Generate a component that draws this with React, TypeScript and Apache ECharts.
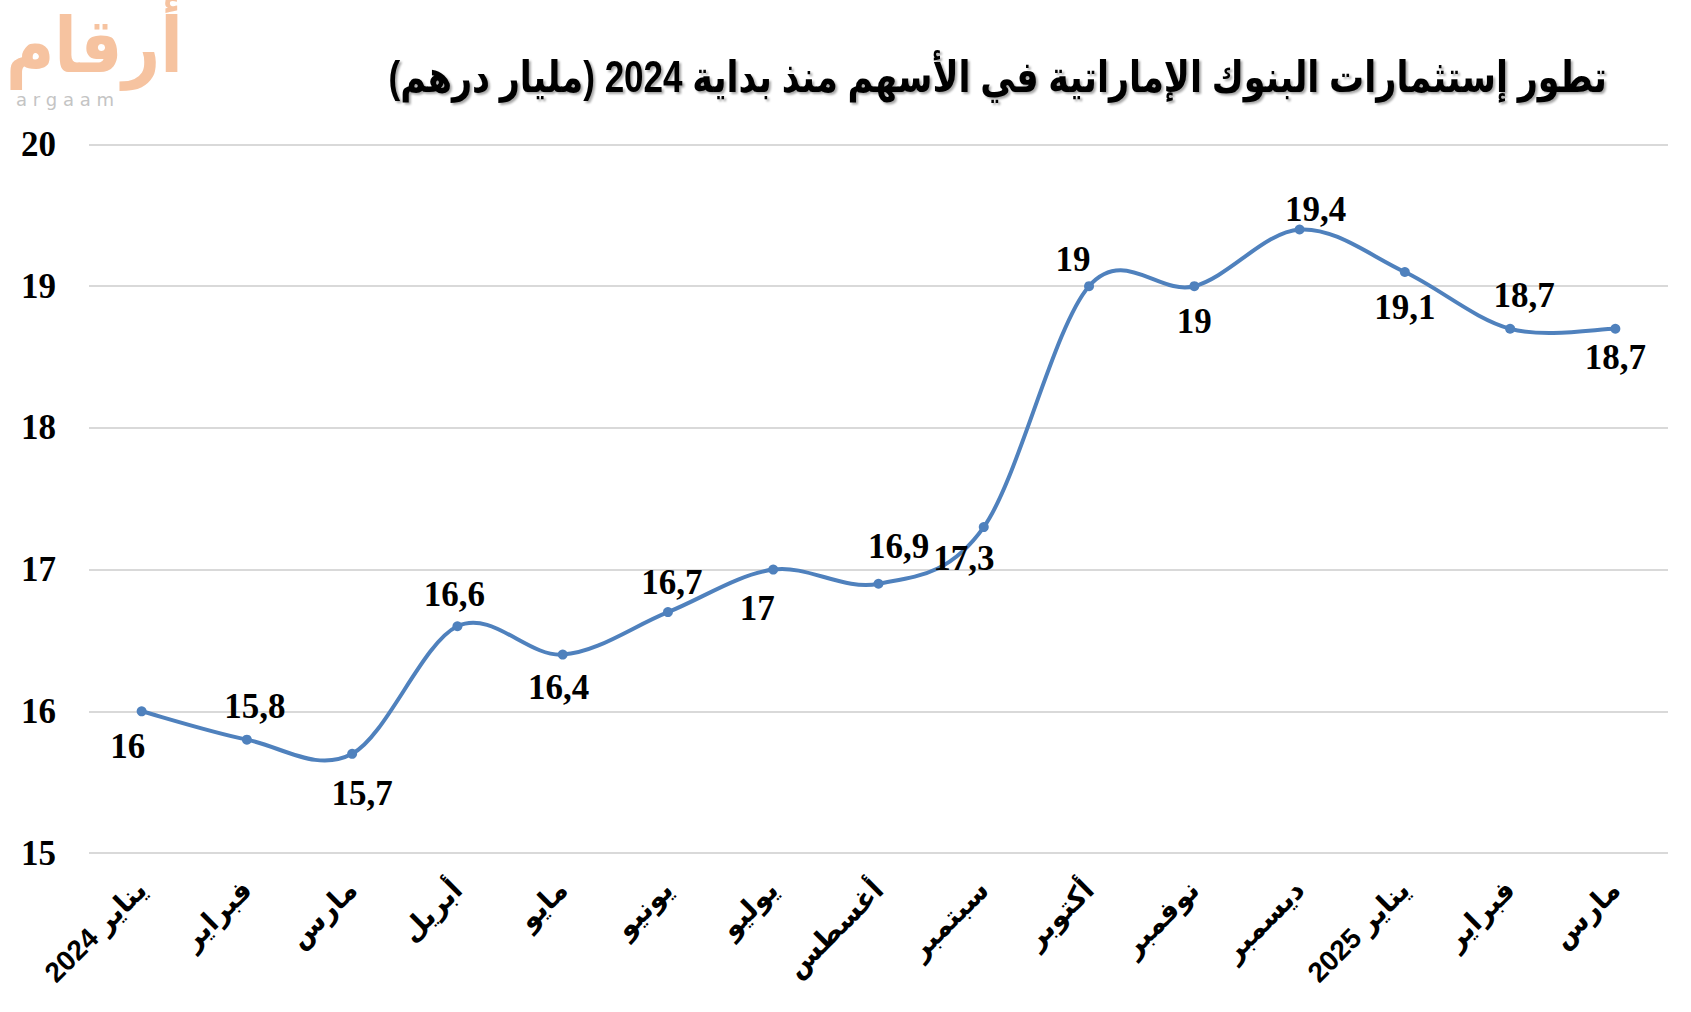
import React, { useEffect, useRef } from "react";
import * as echarts from "echarts";

const categories = [
  "يناير 2024",
  "فبراير",
  "مارس",
  "أبريل",
  "مايو",
  "يونيو",
  "يوليو",
  "أغسطس",
  "سبتمبر",
  "أكتوبر",
  "نوفمبر",
  "ديسمبر",
  "يناير 2025",
  "فبراير",
  "مارس",
];

const values = [16, 15.8, 15.7, 16.6, 16.4, 16.7, 17, 16.9, 17.3, 19, 19, 19.4, 19.1, 18.7, 18.7];

// label offsets (style), relative to the point
const labelOffsets: [number, number][] = [
  [-14, 35], [8, -33], [10, 40], [-3, -32], [-4, 33], [4, -30], [-16, 39], [20, -37],
  [-20, 31], [-16, -27], [0, 35], [16, -20], [0, 35], [14, -33], [0, 29],
];

const yTicks = { min: 15, max: 20, interval: 1 };

const titleText = "تطور إستثمارات البنوك الإماراتية في الأسهم منذ بداية 2024 (مليار درهم)";

const LINE_COLOR = "#4f81bd";

export default function App() {
  const ref = useRef<HTMLDivElement>(null);
  useEffect(() => {
    if (!ref.current) return;
    const chart = echarts.init(ref.current, null, { renderer: "svg" });
    const serif = "'Liberation Serif', 'Times New Roman', serif";
    const arabic = "Arial, 'DejaVu Sans', sans-serif";
    const n = values.length;
    chart.setOption({
      animation: false,
      backgroundColor: "#ffffff",
      grid: { left: 89, right: 23, top: 144.5, bottom: 159 },
      graphic: [
        {
          type: "text",
          x: 1607,
          y: 77,
          scaleY: 1.25,
          style: {
            text: titleText,
            fill: "#000",
            font: `bold 35px ${arabic}`,
            align: "right",
            verticalAlign: "middle",
            textShadowColor: "rgba(0,0,0,0.35)",
            textShadowOffsetX: 2,
            textShadowOffsetY: 2,
            textShadowBlur: 2,
          },
        },
        {
          type: "text",
          x: 6,
          y: 8,
          scaleY: 1.15,
          style: {
            text: "أرقام",
            fill: "#f6c3a0",
            font: `bold 66px ${arabic}`,
            align: "left",
            verticalAlign: "top",
          },
        },
        {
          type: "text",
          left: 16,
          top: 90,
          style: {
            text: "a r g a a m",
            fill: "#c4c4c4",
            font: `18px 'DejaVu Sans', sans-serif`,
          },
        },
      ],
      xAxis: {
        type: "category",
        data: categories,
        boundaryGap: true,
        axisLine: { show: false },
        axisTick: { show: false },
        axisLabel: {
          interval: 0,
          rotate: 45,
          margin: 32,
          color: "#000",
          fontSize: 28,
          fontWeight: "bold",
          fontFamily: arabic,
        },
      },
      yAxis: {
        type: "value",
        min: yTicks.min,
        max: yTicks.max,
        interval: yTicks.interval,
        axisLine: { show: false },
        axisTick: { show: false },
        splitLine: { lineStyle: { color: "#d9d9d9", width: 2 } },
        axisLabel: {
          margin: 33,
          color: "#000",
          fontSize: 35,
          fontWeight: "bold",
          fontFamily: serif,
        },
      },
      series: [
        {
          type: "custom",
          data: values.map((v, i) => [i, v]),
          z: 2,
          silent: true,
          renderItem: (params: any, api: any) => {
            const i = params.dataIndex;
            if (i >= n - 1) return null;
            const pt = (j: number) => {
              const k = Math.max(0, Math.min(n - 1, j));
              return api.coord([k, values[k]]);
            };
            const p0 = pt(i - 1);
            const p1 = pt(i);
            const p2 = pt(i + 1);
            const p3 = pt(i + 2);
            const t = 1 / 6;
            const cp1 = [p1[0] + (p2[0] - p0[0]) * t, p1[1] + (p2[1] - p0[1]) * t];
            const cp2 = [p2[0] - (p3[0] - p1[0]) * t, p2[1] - (p3[1] - p1[1]) * t];
            return {
              type: "bezierCurve",
              shape: {
                x1: p1[0], y1: p1[1],
                cpx1: cp1[0], cpy1: cp1[1],
                cpx2: cp2[0], cpy2: cp2[1],
                x2: p2[0], y2: p2[1],
              },
              style: { stroke: LINE_COLOR, lineWidth: 4, fill: null, lineCap: "round" },
            };
          },
        },
        {
          type: "line",
          z: 3,
          data: values.map((v, i) => ({
            value: v,
            label: { offset: labelOffsets[i] },
          })),
          symbol: "circle",
          symbolSize: 10,
          lineStyle: { width: 0, opacity: 0 },
          itemStyle: { color: LINE_COLOR },
          label: {
            show: true,
            position: "inside",
            color: "#000",
            fontSize: 35,
            fontWeight: "bold",
            fontFamily: serif,
            formatter: (p: any) => String(p.value).replace(".", ","),
          },
        },
      ],
    });
    return () => chart.dispose();
  }, []);
  return (
    <div
      ref={ref}
      style={{ position: "fixed", left: 0, top: 0, width: 1691, height: 1012 }}
    />
  );
}
